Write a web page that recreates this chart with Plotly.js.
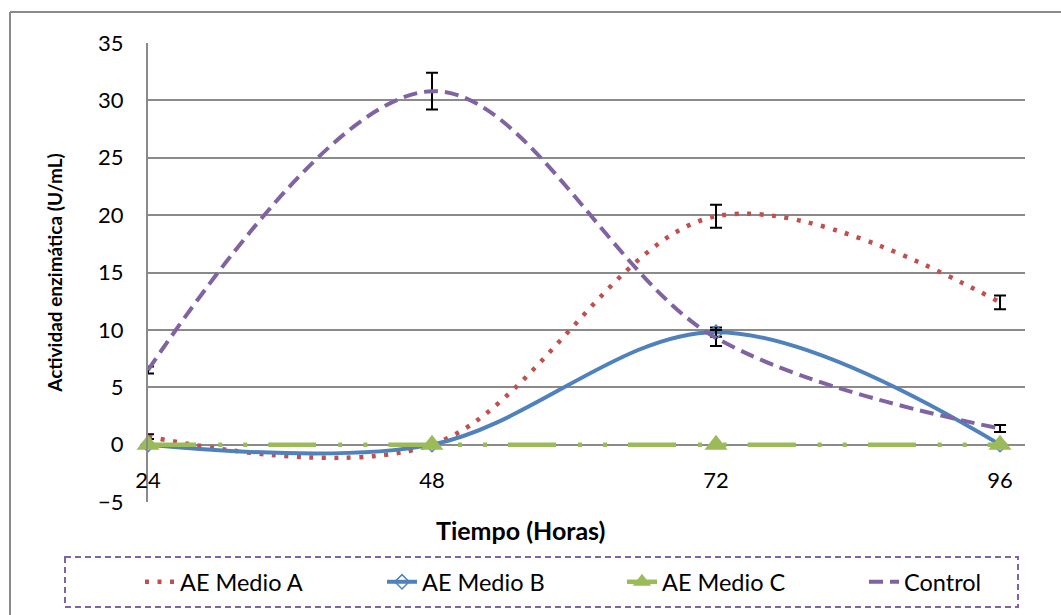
<!DOCTYPE html>
<html>
<head>
<meta charset="utf-8">
<script src="https://cdn.plot.ly/plotly-3.0.1.min.js"></script>
<style>html,body{margin:0;padding:0;background:#fff;}#chart{width:1061px;height:615px;}</style>
</head>
<body>
<div id="chart"></div>
<script>
const hours = [24, 48, 72, 96];
const tickLabels = ["24", "48", "72", "96"];
const seriesNames = ["AE Medio A", "AE Medio B", "AE Medio C", "Control"];
const medioA = [0.7, 0.0, 19.9, 12.4];
const medioAErr = [0.2, 0.1, 1.0, 0.6];
const medioB = [0.0, 0.0, 9.8, 0.0];
const medioBErr = [0.1, 0.1, 0.4, 0.1];
const medioC = [0.0, 0.0, 0.0, 0.0];
const medioCErr = [0, 0, 0, 0];
const control = [6.5, 30.8, 9.3, 1.4];
const controlErr = [0.3, 1.6, 0.7, 0.3];
const yTicks = [-5, 0, 5, 10, 15, 20, 25, 30, 35];
const xTitle = 'Tiempo (Horas)';
const yTitle = 'Actividad enzimática (U/mL)';

const W = 1061, H = 615;
const plotL = 148, plotR = 1025, plotT = 43, plotB = 502;
const pw = plotR - plotL, ph = plotB - plotT;
const px = v => (v - plotL) / pw;
const py = v => (plotB - v) / ph;

function errBar(arr) {
  return {type: 'data', array: arr, visible: true, color: '#000000', thickness: 2, width: 6};
}

const traces = [
  {x: hours, y: medioA, name: seriesNames[0], legend: 'legend', mode: 'lines', cliponaxis: false,
   line: {color: '#C0504D', width: 4.5, dash: '4px,8.5px', shape: 'spline', smoothing: 1},
   error_y: errBar(medioAErr)},
  {x: hours, y: medioB, name: seriesNames[1], legend: 'legend2', mode: 'lines+markers', cliponaxis: false,
   line: {color: '#4F81BD', width: 4, shape: 'spline', smoothing: 1},
   marker: {symbol: 'diamond-open', size: 11, color: '#4F81BD', line: {width: 1.5}},
   error_y: errBar(medioBErr)},
  {x: hours, y: medioC, name: seriesNames[2], legend: 'legend3', mode: 'lines+markers', cliponaxis: false,
   line: {color: '#9BBB59', width: 4.5, dash: '48px,22px,4px,21px,4px,21px', shape: 'spline', smoothing: 1},
   marker: {symbol: 'triangle-up', size: 20, color: '#9BBB59'},
   error_y: errBar(medioCErr)},
  {x: hours, y: control, name: seriesNames[3], legend: 'legend4', mode: 'lines', cliponaxis: false,
   line: {color: '#8064A2', width: 4, dash: '14px,7px', shape: 'spline', smoothing: 1},
   error_y: errBar(controlErr)}
];

const fontFam = 'Lato, "Open Sans", sans-serif';

function legendAt(xPix) {
  return {orientation: 'h', xref: 'container', yref: 'container',
          x: xPix / W, xanchor: 'left', y: 1 - 560 / H, yanchor: 'top',
          font: {size: 23.5, family: fontFam, color: '#000000'},
          bgcolor: 'rgba(0,0,0,0)', borderwidth: 0};
}

const layout = {
  width: W, height: H,
  margin: {l: plotL, r: W - plotR, t: plotT, b: H - plotB, pad: 0, autoexpand: false},
  paper_bgcolor: '#ffffff', plot_bgcolor: '#ffffff',
  font: {family: fontFam, size: 20, color: '#000000'},
  showlegend: true,
  legend: legendAt(140),
  legend2: legendAt(382),
  legend3: legendAt(622),
  legend4: legendAt(864),
  xaxis: {range: [24, 98.11], tickvals: hours, ticktext: tickLabels, automargin: false,
          anchor: 'free', position: 5 / 40, showgrid: false, zeroline: false,
          showline: false, ticks: '', ticklabelstandoff: 20,
          tickfont: {size: 22, family: fontFam}},
  yaxis: {range: [-5, 35], tickvals: yTicks, showgrid: true, gridcolor: '#8A8A8A', gridwidth: 2,
          zeroline: false, showline: true, linecolor: '#8A8A8A', linewidth: 2, automargin: false,
          ticks: '', ticklabelstandoff: 18, tickfont: {size: 22, family: fontFam},
          title: {text: yTitle, font: {size: 19, family: fontFam, weight: 'bold'}, standoff: 30}},
  annotations: [
    {text: '<b>' + xTitle + '</b>', xref: 'paper', yref: 'paper', x: px(520), y: py(530),
     xanchor: 'center', yanchor: 'middle', showarrow: false,
     font: {size: 25, family: fontFam, color: '#000000'}}
  ],
  shapes: [
    {type: 'line', xref: 'paper', yref: 'paper', x0: px(10), x1: px(1070), y0: py(12), y1: py(12),
     line: {color: '#8A8A8A', width: 2}},
    {type: 'line', xref: 'paper', yref: 'paper', x0: px(10), x1: px(10), y0: py(12), y1: py(625),
     line: {color: '#8A8A8A', width: 2}},
    {type: 'rect', xref: 'paper', yref: 'paper', x0: px(65), x1: px(1018), y0: py(557), y1: py(607),
     line: {color: '#8064A2', width: 2, dash: '6px,4px'}, fillcolor: 'rgba(0,0,0,0)'}
  ]
};

Plotly.newPlot('chart', traces, layout, {displayModeBar: false, staticPlot: true});
</script>
</body>
</html>
